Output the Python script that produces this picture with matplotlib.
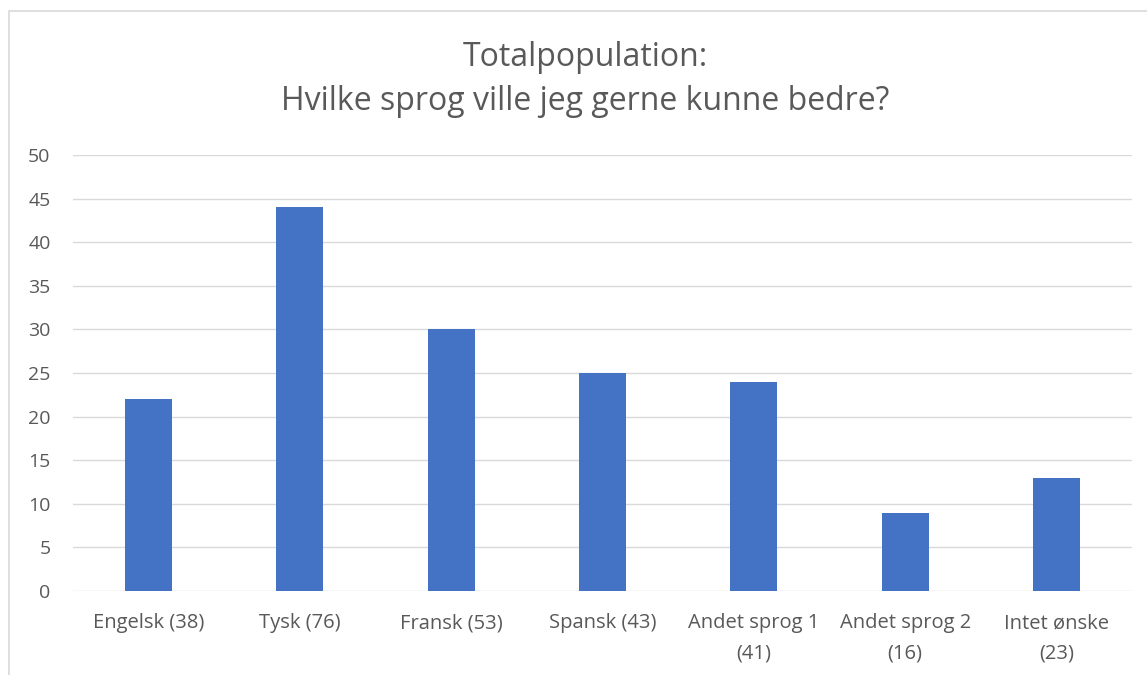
import numpy as np
import matplotlib.pyplot as plt
from matplotlib.patches import Rectangle

categories = ["Engelsk (38)", "Tysk (76)", "Fransk (53)", "Spansk (43)",
              "Andet sprog 1\n(41)", "Andet sprog 2\n(16)", "Intet ønske\n(23)"]
values = [22, 44, 30, 25, 24, 9, 13]

plt.rcParams['font.family'] = ['Open Sans', 'DejaVu Sans']
grey = '#595959'

fig = plt.figure(figsize=(11.47, 6.75), dpi=100)
ax = fig.add_axes([72.8 / 1147, 1 - 591 / 675, (1132.2 - 72.8) / 1147, (591 - 155) / 675])

x = np.arange(len(categories))
ax.bar(x, values, width=0.31, color='#4472C4', zorder=3)

ax.set_xlim(-0.5, len(categories) - 0.5)
ax.set_ylim(0, 50)
ax.set_yticks(range(0, 51, 5))
ax.set_xticks(x)
ax.set_xticklabels(categories, color=grey, fontsize=14.5, linespacing=1.7)
ax.tick_params(axis='y', labelcolor=grey, labelsize=14, length=0, pad=16)
ax.tick_params(axis='x', length=0, pad=16)
ax.grid(axis='y', color='#d9d9d9', linewidth=1, zorder=0)
for s in ax.spines.values():
    s.set_visible(False)

fig.text(585 / 1147, 1 - 57 / 675, "Totalpopulation:", ha='center', va='center',
         fontsize=23, color=grey)
fig.text(585 / 1147, 1 - 101 / 675, "Hvilke sprog ville jeg gerne kunne bedre?", ha='center',
         va='center', fontsize=23, color=grey)

fig.patches.append(Rectangle((9 / 1147, -0.1), 1.2, 1 - 11 / 675 + 0.1,
                             transform=fig.transFigure, fill=False,
                             edgecolor='#d9d9d9', linewidth=1.2))

fig.savefig('out.png', dpi=100)
